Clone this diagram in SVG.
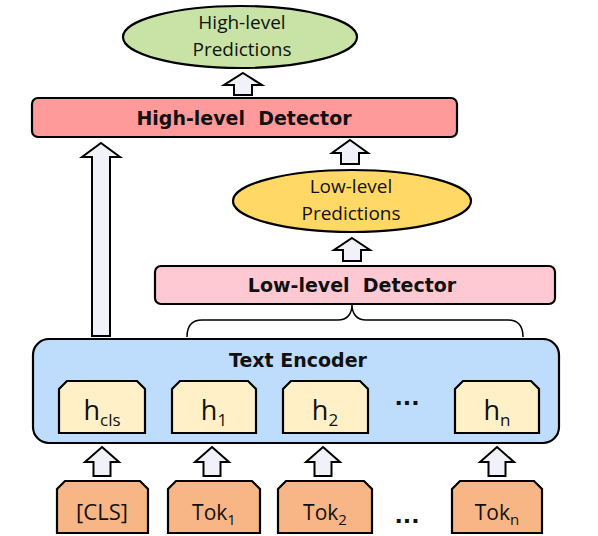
<svg xmlns="http://www.w3.org/2000/svg" width="598" height="536" viewBox="0 0 598 536">
<style>
.ln{stroke:#000;stroke-width:2.2}
.arr{fill:#F1F1FA;stroke:#000;stroke-width:2;stroke-linejoin:miter}
.t{font-family:"Open Sans","Noto Sans",sans-serif;fill:#111;text-anchor:middle}
.b{font-family:"DejaVu Sans","Verdana",sans-serif;font-weight:bold;fill:#111;text-anchor:middle}
.d{font-family:"DejaVu Sans",sans-serif;font-weight:bold;fill:#111;text-anchor:middle}
.hb{fill:#FFF0C8}
.tk{fill:#F8B585}
</style>
<rect width="598" height="536" fill="#fff"/>
<g id="connectors">
<path class="arr" d="M243,73 L262,85 L252,85 L252,95 L234,95 L234,85 L224,85 Z"/>
<path class="arr" d="M350,140 L368,153 L359,153 L359,164 L341,164 L341,153 L332,153 Z"/>
<path class="arr" d="M352,238 L370,250 L361,250 L361,261 L343,261 L343,250 L334,250 Z"/>
<path class="arr" d="M101,143 L120,157 L110,157 L110,336 L92,336 L92,157 L82,157 Z"/>
<path class="arr" d="M102,447 L119,462 L110.5,462 L110.5,476 L93.5,476 L93.5,462 L85,462 Z"/>
<path class="arr" d="M212,447 L229,462 L220.5,462 L220.5,476 L203.5,476 L203.5,462 L195,462 Z"/>
<path class="arr" d="M323,447 L340,462 L331.5,462 L331.5,476 L314.5,476 L314.5,462 L306,462 Z"/>
<path class="arr" d="M497,447 L514,462 L505.5,462 L505.5,476 L488.5,476 L488.5,462 L480,462 Z"/>
<path d="M187,337 C187,326 192,320 202,320 L338,320 C347,320 352,314 352,305 C352,314 357,320 366,320 L508,320 C518,320 523,326 523,337" fill="none" stroke="#000" stroke-width="1.5"/>
</g>
<g id="high-pred">
<ellipse class="ln" cx="240" cy="37" rx="117" ry="31" fill="#C8E3A5"/>
<text class="t" x="242" y="29" font-size="19">High-level</text>
<text class="t" x="242" y="56" font-size="19">Predictions</text>
</g>
<g id="high-det">
<rect class="ln" x="32" y="98" width="425" height="39" rx="6" fill="#FF9A9A"/>
<text class="b" x="244" y="125" font-size="19" xml:space="preserve">High-level  Detector</text>
</g>
<g id="low-pred">
<ellipse class="ln" cx="352" cy="201" rx="119" ry="31" fill="#FFD866"/>
<text class="t" x="351" y="193" font-size="19">Low-level</text>
<text class="t" x="351" y="220" font-size="19">Predictions</text>
</g>
<g id="low-det">
<rect class="ln" x="155" y="266" width="400" height="38" rx="6" fill="#FFC9D3"/>
<text class="b" x="352" y="292" font-size="19" xml:space="preserve">Low-level  Detector</text>
</g>
<g id="encoder">
<rect class="ln" x="33" y="339" width="526" height="104" rx="16" fill="#BEDCFC"/>
<text class="b" x="298" y="367" font-size="19">Text Encoder</text>
<text class="d" x="407" y="405" font-size="22">...</text>
</g>
<g id="h-cls">
<path class="ln hb" d="M59,389 L67,381 L137,381 L145,389 L145,433 L59,433 Z"/>
<text class="t" x="102" y="420" font-size="27">h<tspan font-size="17" dy="6">cls</tspan></text>
</g>
<g id="h-1">
<path class="ln hb" d="M172,389 L180,381 L248,381 L256,389 L256,433 L172,433 Z"/>
<text class="t" x="214" y="420" font-size="27">h<tspan font-size="17" dy="6">1</tspan></text>
</g>
<g id="h-2">
<path class="ln hb" d="M283,389 L291,381 L360,381 L368,389 L368,433 L283,433 Z"/>
<text class="t" x="325" y="420" font-size="27">h<tspan font-size="17" dy="6">2</tspan></text>
</g>
<g id="h-n">
<path class="ln hb" d="M455,389 L463,381 L531,381 L539,389 L539,433 L455,433 Z"/>
<text class="t" x="497" y="420" font-size="27">h<tspan font-size="17" dy="6">n</tspan></text>
</g>
<g id="tok-cls">
<path class="ln tk" d="M57,489 L65,481 L140,481 L148,489 L148,533 L57,533 Z"/>
<text class="t" x="102" y="520" font-size="22">[CLS]</text>
</g>
<g id="tok-1">
<path class="ln tk" d="M168,489 L176,481 L252,481 L260,489 L260,533 L168,533 Z"/>
<text class="t" x="214" y="520" font-size="21">Tok<tspan font-size="15" dy="5">1</tspan></text>
</g>
<g id="tok-2">
<path class="ln tk" d="M278,489 L286,481 L364,481 L372,489 L372,533 L278,533 Z"/>
<text class="t" x="325" y="520" font-size="21">Tok<tspan font-size="15" dy="5">2</tspan></text>
</g>
<g id="dots-bottom">
<text class="d" x="407" y="523" font-size="22">...</text>
</g>
<g id="tok-n">
<path class="ln tk" d="M452,489 L460,481 L534,481 L542,489 L542,533 L452,533 Z"/>
<text class="t" x="497" y="520" font-size="21">Tok<tspan font-size="15" dy="5">n</tspan></text>
</g>
</svg>
